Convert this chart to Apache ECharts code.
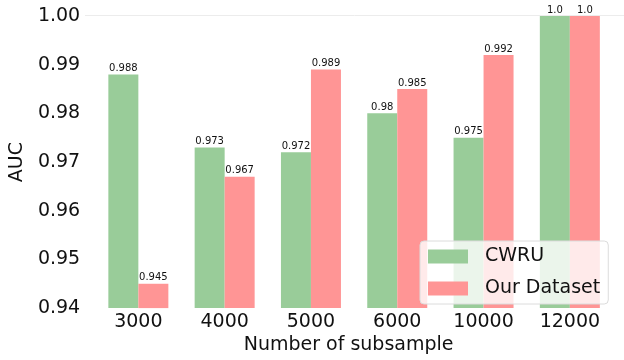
<!DOCTYPE html>
<html>
<head>
<meta charset="utf-8">
<script src="https://cdn.jsdelivr.net/npm/echarts@6/dist/echarts.min.js"></script>
<style>
  html, body { margin: 0; padding: 0; background: #fff; }
  #chart { width: 624px; height: 360px; }
</style>
</head>
<body>
<div id="chart"></div>
<script>
// Subsample sizes on the x axis
const subsampleSizes = ['3000', '4000', '5000', '6000', '10000', '12000'];
// AUC per subsample size
const cwruAuc = [0.988, 0.973, 0.972, 0.98, 0.975, 1.0];
const ourAuc = [0.945, 0.967, 0.989, 0.985, 0.992, 1.0];
const seriesNames = ['CWRU', 'Our Dataset'];

const FONT = 'DejaVu Sans';

// value text as Python would print it (1.0 keeps its decimal)
function valueText(v) {
  return Number.isInteger(v) ? v.toFixed(1) : String(v);
}

const barLabel = {
  show: true,
  position: 'top',
  distance: 1,
  fontFamily: FONT,
  fontSize: 10,
  color: '#111',
  formatter: p => valueText(p.value)
};

const chart = echarts.init(document.getElementById('chart'), null, { renderer: 'canvas' });

chart.setOption({
  animation: false,
  backgroundColor: '#ffffff',
  textStyle: { fontFamily: FONT },
  grid: { left: 95, right: 11, top: 16, bottom: 46 },
  graphic: [
    {
      type: 'line',
      silent: true,
      shape: { x1: 85, y1: 15.5, x2: 624, y2: 15.5 },
      style: { stroke: '#ececec', lineWidth: 1 }
    }
  ],
  legend: {
    orient: 'vertical',
    left: 420,
    top: 241,
    padding: [6, 8, 6, 8],
    itemGap: 13,
    itemWidth: 40,
    itemHeight: 14,
    icon: 'rect',
    backgroundColor: 'rgba(255,255,255,0.8)',
    borderColor: '#dcdcdc',
    borderWidth: 1,
    borderRadius: 4,
    textStyle: { fontFamily: FONT, fontSize: 19, color: '#111', padding: [0, 0, 0, 12] },
    data: seriesNames
  },
  xAxis: {
    type: 'category',
    data: subsampleSizes,
    axisLine: { show: false },
    axisTick: { show: false },
    axisLabel: { fontFamily: FONT, fontSize: 19, color: '#111', margin: 4 },
    name: 'Number of subsample',
    nameLocation: 'middle',
    nameGap: 25,
    nameTextStyle: { fontFamily: FONT, fontSize: 19, color: '#111', padding: [0, 11, 0, 0] }
  },
  yAxis: {
    type: 'value',
    min: 0.94,
    max: 1.0,
    interval: 0.01,
    axisLine: { show: false },
    axisTick: { show: false },
    splitLine: { show: false },
    axisLabel: {
      fontFamily: FONT, fontSize: 19, color: '#111', margin: 15,
      formatter: v => v.toFixed(2)
    },
    name: 'AUC',
    nameLocation: 'middle',
    nameGap: 62,
    nameTextStyle: { fontFamily: FONT, fontSize: 19, color: '#111' }
  },
  series: [
    {
      name: seriesNames[0],
      type: 'bar',
      data: cwruAuc,
      barWidth: 30,
      barGap: '0%',
      itemStyle: { color: '#99cc99' },
      label: barLabel
    },
    {
      name: seriesNames[1],
      type: 'bar',
      data: ourAuc,
      barWidth: 30,
      barGap: '0%',
      itemStyle: { color: '#ff9595' },
      label: barLabel
    }
  ]
});
</script>
</body>
</html>
